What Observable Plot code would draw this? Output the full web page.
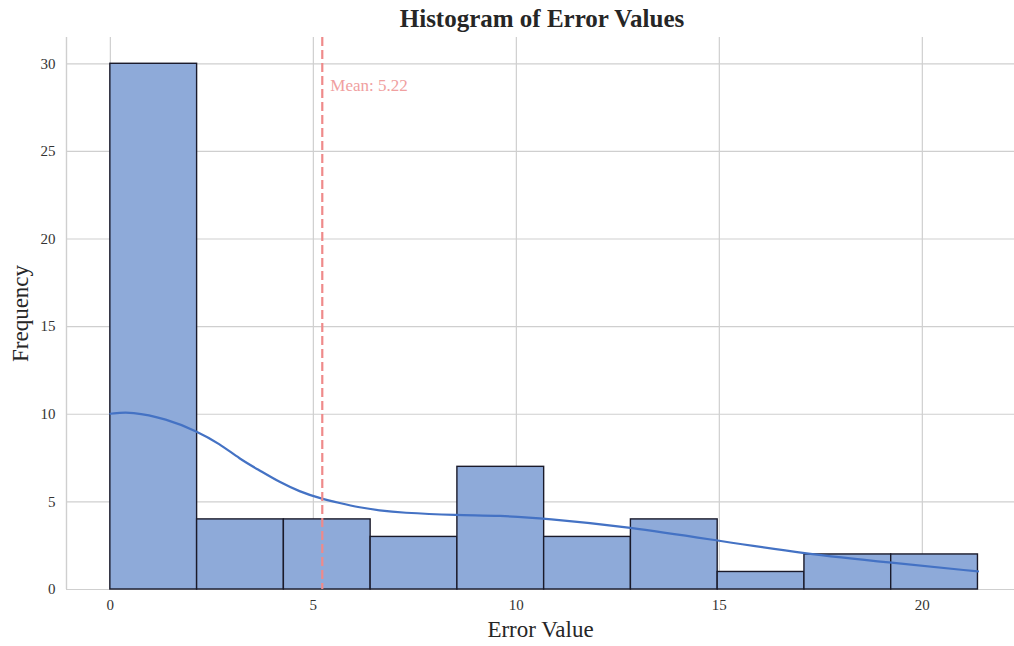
<!DOCTYPE html>
<html>
<head>
<meta charset="utf-8">
<script src="https://cdn.jsdelivr.net/npm/d3@7"></script>
<script src="https://cdn.jsdelivr.net/npm/@observablehq/plot@0.6"></script>
<style>
  html, body { margin: 0; padding: 0; background: #fff; overflow: hidden; }
  #title { height: 36px; line-height: 38px; text-align: center; font-family: "Liberation Serif", serif; font-weight: bold; font-size: 25px; color: #262626; padding-left: 70px; box-sizing: border-box; width: 1014px; }
  #chart { width: 1014px; height: 610px; }
  #chart svg { display: block; max-width: none !important; }
</style>
</head>
<body>
<div id="title">Histogram of Error Values</div>
<div id="chart"></div>
<script>
const binEdges = [0, 2.137, 4.274, 6.411, 8.548, 10.685, 12.822, 14.959, 17.096, 19.233, 21.37];
const counts = [30, 4, 4, 3, 7, 3, 4, 1, 2, 2];
const kdeX = [0, 0.52, 1.38, 2.13, 2.69, 3.18, 3.68, 4.17, 4.66, 5.15, 5.65, 6.14, 6.63, 7.13, 8.55, 9.59, 10.7, 12.8, 14.96, 17.1, 19.24, 21.37];
const kdeY = [10.03, 10.16, 9.74, 9.04, 8.32, 7.46, 6.79, 6.12, 5.59, 5.21, 4.93, 4.68, 4.51, 4.38, 4.24, 4.22, 4.06, 3.57, 2.79, 2.04, 1.53, 1.03];
const meanValue = 5.22;
const xTicks = [0, 5, 10, 15, 20];
const yTicks = [0, 5, 10, 15, 20, 25, 30];

const bins = counts.map((c, i) => ({x1: binEdges[i], x2: binEdges[i + 1], y: c}));
const kde = kdeX.map((x, i) => ({x, y: kdeY[i]}));

const font = "Liberation Serif, serif";
const xMin = -1.08, xMax = 22.27;

const plot = Plot.plot({
  width: 1014,
  height: 610,
  marginTop: 1,
  marginLeft: 66,
  marginRight: 0,
  marginBottom: 57,
  style: {fontFamily: font, fontSize: "15px", color: "#333", background: "#fff"},
  x: {domain: [xMin, xMax], ticks: xTicks, tickSize: 0, tickPadding: 10, label: null, tickFormat: d => String(d)},
  y: {domain: [0, 31.5], ticks: yTicks, tickSize: 0, tickPadding: 11, label: null},
  marks: [
    Plot.ruleY(yTicks, {x1: xMin, x2: xMax, stroke: "#cfcfcf", strokeWidth: 1.2}),
    Plot.ruleX(xTicks, {stroke: "#cfcfcf", strokeWidth: 1.2}),
    Plot.ruleX([xMin], {stroke: "#cfcfcf", strokeWidth: 1.4}),
    Plot.rectY(bins, {x1: "x1", x2: "x2", y: "y", fill: "#8eaad9", stroke: "#1a1a2a", strokeWidth: 1.4, insetLeft: 0, insetRight: 0}),
    Plot.line(kde, {x: "x", y: "y", stroke: "#4472c4", strokeWidth: 2.2, curve: "basis"}),
    Plot.ruleX([meanValue], {stroke: "#ef8a8a", strokeWidth: 2.2, strokeDasharray: "9,4"}),
    Plot.text([`Mean: ${meanValue.toFixed(2)}`], {x: meanValue, y: 28.75, text: d => d, dx: 8, textAnchor: "start", fill: "#f0a0a0", fontSize: 17}),
    Plot.axisX({ticks: xTicks, tickSize: 0, tickPadding: 10, label: null, fontSize: 15}),
    Plot.axisY({ticks: yTicks, tickSize: 0, tickPadding: 11, label: null, fontSize: 15}),
    Plot.text(["Error Value"], {frameAnchor: "bottom", textAnchor: "middle", dy: 47, fontSize: 23, fill: "#262626"}),
    Plot.text(["Frequency"], {frameAnchor: "left", textAnchor: "middle", lineAnchor: "middle", dx: -46, rotate: -90, fontSize: 23, fill: "#262626"})
  ]
});
document.getElementById("chart").appendChild(plot);
</script>
</body>
</html>
